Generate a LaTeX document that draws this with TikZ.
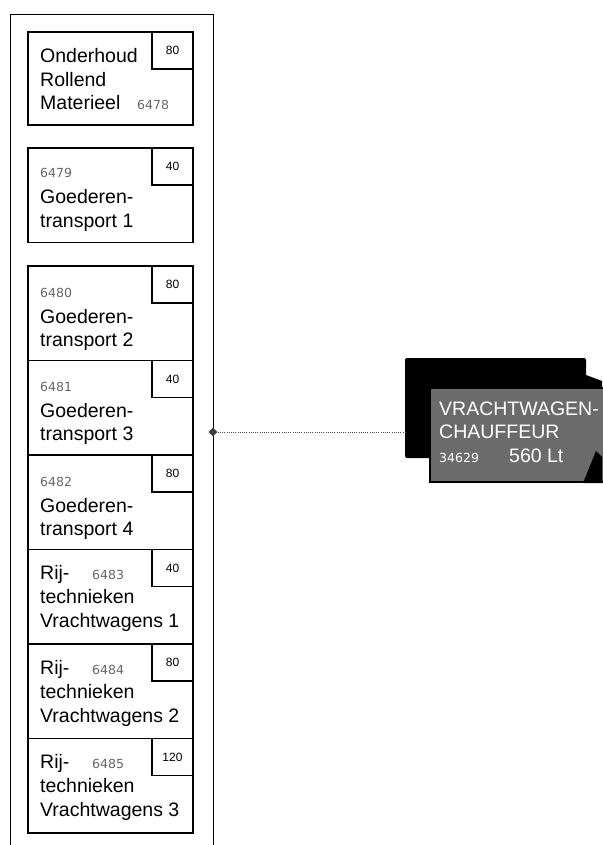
\documentclass[tikz,border=0pt]{standalone}
\usepackage{fontspec}
\setmainfont{Liberation Sans}
\newfontfamily\numfont{DejaVu Sans}
\usetikzlibrary{shapes.geometric,positioning}
\definecolor{cardGray}{gray}{0.42}
\definecolor{numGray}{gray}{0.4}

\begin{document}
\begin{tikzpicture}[x=1pt,y=-1pt,
    every node/.style={font=\fontsize{19.5}{23.5}\selectfont},
    unit/.style={draw,line width=1.3pt,minimum width=165pt,minimum height=94.5pt,inner sep=0pt,outer sep=0pt},
    hours/.style={draw,line width=1.3pt,minimum width=41pt,minimum height=37pt,inner sep=0pt,outer sep=0pt,anchor=north east,font=\fontsize{12}{12}\selectfont},
    txt/.style={anchor=base west,inner sep=0pt},
    cardtxt/.style={anchor=base west,inner sep=0pt,text=white},
    codenr/.style={anchor=base west,inner sep=0pt,text=numGray,font=\numfont\fontsize{12.5}{12.5}\selectfont}]
    \useasboundingbox (0,0) rectangle (602,845);
    % column of course units
    \node[draw,line width=0.9pt,minimum width=203pt,minimum height=836pt,anchor=north west,inner sep=0pt,outer sep=0pt] (column) at (10,14) {};
    \node[unit,minimum height=93pt,anchor=north west] (onderhoud) at (28,32) {};
    \node[unit,minimum height=94.5pt,below=23pt of onderhoud] (goed1) {};
    \node[unit,below=23.5pt of goed1] (goed2) {};
    \node[unit,below=0pt of goed2] (goed3) {};
    \node[unit,below=0pt of goed3] (goed4) {};
    \node[unit,below=0pt of goed4] (rij1) {};
    \node[unit,below=0pt of rij1] (rij2) {};
    \node[unit,below=0pt of rij2] (rij3) {};
    \node[hours] (h1) at (onderhoud.north east) {80};
    \node[hours] (h2) at (goed1.north east) {40};
    \node[hours] (h3) at (goed2.north east) {80};
    \node[hours] (h4) at (goed3.north east) {40};
    \node[hours] (h5) at (goed4.north east) {80};
    \node[hours] (h6) at (rij1.north east) {40};
    \node[hours] (h7) at (rij2.north east) {80};
    \node[hours] (h8) at (rij3.north east) {120};
    % texts
    \node[txt] (o1) at ([shift={(12,31)}]onderhoud.north west) {Onderhoud};
    \node[txt] (o2) at ([shift={(12,55)}]onderhoud.north west) {Rollend};
    \node[txt] (o3) at ([shift={(12,78)}]onderhoud.north west) {Materieel};
    \node[codenr] (c1) at ([shift={(109,78)}]onderhoud.north west) {6478};
    \node[codenr] (c2) at ([shift={(12,30)}]goed1.north west) {6479};
    \node[txt] (g1a) at ([shift={(12,56)}]goed1.north west) {Goederen-};
    \node[txt] (g1b) at ([shift={(12,79)}]goed1.north west) {transport 1};
    \node[codenr] (c3) at ([shift={(12,31)}]goed2.north west) {6480};
    \node[txt] (g2a) at ([shift={(12,57)}]goed2.north west) {Goederen-};
    \node[txt] (g2b) at ([shift={(12,80)}]goed2.north west) {transport 2};
    \node[codenr] (c4) at ([shift={(12,31)}]goed3.north west) {6481};
    \node[txt] (g3a) at ([shift={(12,57)}]goed3.north west) {Goederen-};
    \node[txt] (g3b) at ([shift={(12,80)}]goed3.north west) {transport 3};
    \node[codenr] (c5) at ([shift={(12,31)}]goed4.north west) {6482};
    \node[txt] (g4a) at ([shift={(12,57)}]goed4.north west) {Goederen-};
    \node[txt] (g4b) at ([shift={(12,80)}]goed4.north west) {transport 4};
    \node[txt] (r1a) at ([shift={(12,30)}]rij1.north west) {Rij-};
    \node[codenr] (c6) at ([shift={(64,30)}]rij1.north west) {6483};
    \node[txt] (r1b) at ([shift={(12,54)}]rij1.north west) {technieken};
    \node[txt] (r1c) at ([shift={(12,78)}]rij1.north west) {Vrachtwagens 1};
    \node[txt] (r2a) at ([shift={(12,30)}]rij2.north west) {Rij-};
    \node[codenr] (c7) at ([shift={(64,30)}]rij2.north west) {6484};
    \node[txt] (r2b) at ([shift={(12,54)}]rij2.north west) {technieken};
    \node[txt] (r2c) at ([shift={(12,78)}]rij2.north west) {Vrachtwagens 2};
    \node[txt] (r3a) at ([shift={(12,30)}]rij3.north west) {Rij-};
    \node[codenr] (c8) at ([shift={(64,30)}]rij3.north west) {6485};
    \node[txt] (r3b) at ([shift={(12,54)}]rij3.north west) {technieken};
    \node[txt] (r3c) at ([shift={(12,78)}]rij3.north west) {Vrachtwagens 3};
    % job card
    \node[fill=black,rounded corners=2pt,minimum width=181pt,minimum height=100pt,anchor=north west,inner sep=0pt,outer sep=0pt] (card) at (405,358) {};
    \fill (578,372) -- (602,381) -- (602,392) -- (578,392) -- cycle;
    \node[fill=cardGray,draw=black,line width=1.5pt,minimum width=176pt,minimum height=94pt,anchor=north west,inner sep=0pt,outer sep=0pt] (face) at (430,388) {};
    \fill (583,483) -- (596,451) -- (602,457) -- (602,483) -- cycle;
    \node[cardtxt] (title1) at (439,415) {VRACHTWAGEN-};
    \node[cardtxt] (title2) at (439,438) {CHAUFFEUR};
    \node[codenr,text=white] (cardnr) at (439,462) {34629};
    \node[cardtxt] (wage) at (509,462) {560 Lt};
    % connector
    \node[diamond,fill=black!75,inner sep=0pt,minimum size=9pt] (joint) at (column.east) {};
    \draw[line width=0.7pt,black!70,dash pattern=on 1pt off 1.2pt] (joint) -- (joint -| card.west);
\end{tikzpicture}
\end{document}
